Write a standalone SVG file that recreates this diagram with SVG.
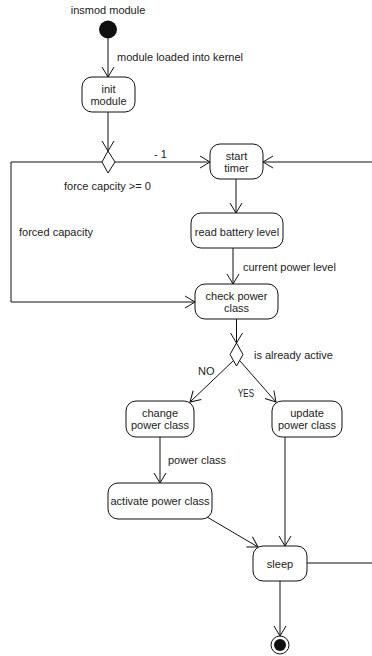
<svg xmlns="http://www.w3.org/2000/svg" width="372" height="656" viewBox="0 0 372 656">
<style>
text{font-family:"Liberation Sans",Arial,sans-serif;font-size:11px;fill:#222}
.c{text-anchor:middle}
.box{fill:#fff;stroke:#111;stroke-width:1}
.ln{fill:none;stroke:#111;stroke-width:1}
.dia{fill:#fff;stroke:#111;stroke-width:1}
</style>
<defs>
<marker id="arr" viewBox="0 0 12 14" refX="11" refY="7" markerWidth="12" markerHeight="14" markerUnits="userSpaceOnUse" orient="auto">
<path d="M1,1 L11,7 L1,13" fill="none" stroke="#111" stroke-width="1"/>
</marker>
</defs>
<rect width="372" height="656" fill="#fff"/>
<g id="connectors">
<path class="ln" d="M108,38 V77" marker-end="url(#arr)"/>
<path class="ln" d="M108,112 V151" marker-end="url(#arr)"/>
<path class="ln" d="M115,162 H210" marker-end="url(#arr)"/>
<path class="ln" d="M102,162 H11 V302 H195" marker-end="url(#arr)"/>
<path class="ln" d="M307,563 H373 V162 H263" marker-end="url(#arr)"/>
<path class="ln" d="M236,179 V213" marker-end="url(#arr)"/>
<path class="ln" d="M233,248 V284" marker-end="url(#arr)"/>
<path class="ln" d="M236.5,319 V343" marker-end="url(#arr)"/>
<path class="ln" d="M233,361 L190,402" marker-end="url(#arr)"/>
<path class="ln" d="M240,361 L276,402" marker-end="url(#arr)"/>
<path class="ln" d="M160,437 V483" marker-end="url(#arr)"/>
<path class="ln" d="M285,437 V546" marker-end="url(#arr)"/>
<path class="ln" d="M207,517 L258,547" marker-end="url(#arr)"/>
<path class="ln" d="M280,581 V636" marker-end="url(#arr)"/>
<text x="117" y="61">module loaded into kernel</text>
<text x="154" y="158">- 1</text>
<text x="64" y="190">force capcity &gt;= 0</text>
<text x="19" y="236">forced capacity</text>
<text x="243" y="271">current power level</text>
<text x="254" y="359">is already active</text>
<text x="198" y="375">NO</text>
<text x="238" y="397" textLength="16" lengthAdjust="spacingAndGlyphs">YES</text>
<text x="168" y="464">power class</text>
</g>
<g id="start">
<text class="c" x="108" y="14">insmod module</text>
<circle cx="108" cy="29.5" r="9" fill="#111"/>
</g>
<g id="init-module">
<rect class="box" x="82" y="77" width="53" height="35" rx="10"/>
<text class="c" x="108.5" y="93">init</text>
<text class="c" x="108.5" y="105">module</text>
</g>
<g id="decision-force">
<path class="dia" d="M108,151 L115,162 L108,173 L102,162 Z"/>
</g>
<g id="start-timer">
<rect class="box" x="210" y="144" width="53" height="35" rx="10"/>
<text class="c" x="236.5" y="160">start</text>
<text class="c" x="236.5" y="172">timer</text>
</g>
<g id="read-battery">
<rect class="box" x="191" y="213" width="92" height="35" rx="10"/>
<text class="c" x="237" y="235.5">read battery level</text>
</g>
<g id="check-power">
<rect class="box" x="195" y="284" width="83" height="35" rx="10"/>
<text class="c" x="236.5" y="300">check power</text>
<text class="c" x="236.5" y="312">class</text>
</g>
<g id="decision-active">
<path class="dia" d="M236.5,343 L243,354.5 L236.5,366 L230,354.5 Z"/>
</g>
<g id="change-power">
<rect class="box" x="126" y="401" width="68" height="36" rx="10"/>
<text class="c" x="160" y="417">change</text>
<text class="c" x="160" y="429">power class</text>
</g>
<g id="update-power">
<rect class="box" x="272" y="401" width="70" height="36" rx="10"/>
<text class="c" x="307" y="417">update</text>
<text class="c" x="307" y="429">power class</text>
</g>
<g id="activate-power">
<rect class="box" x="108" y="483" width="104" height="36" rx="10"/>
<text class="c" x="160" y="505">activate power class</text>
</g>
<g id="sleep">
<rect class="box" x="253" y="546" width="54" height="35" rx="10"/>
<text class="c" x="280" y="567.5">sleep</text>
</g>
<g id="end">
<circle cx="280" cy="645" r="9" fill="#fff" stroke="#111" stroke-width="1"/>
<circle cx="280" cy="645" r="6" fill="#111"/>
</g>
</svg>
